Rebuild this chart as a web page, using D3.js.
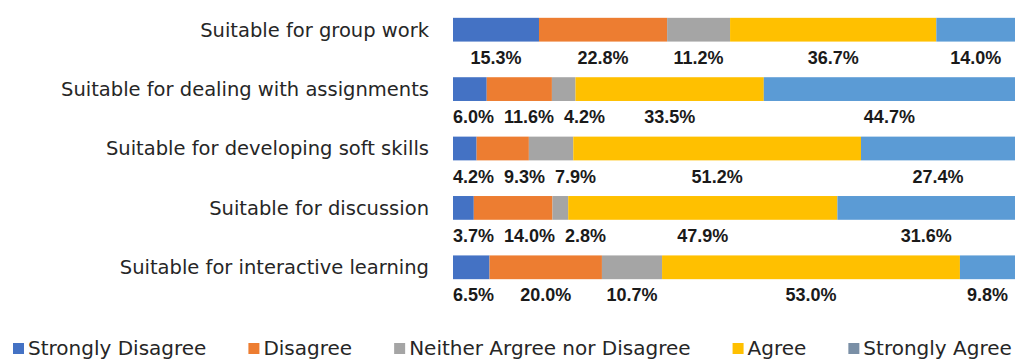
<html>
<head>
  <meta charset="utf-8" />
<style>
  html, body { margin: 0; padding: 0; background: #fff; }
  svg text { font-family: "DejaVu Sans", sans-serif; }
</style>
</head>
<body>
<div id="chart"></div>
<script src="https://cdnjs.cloudflare.com/ajax/libs/d3/7.8.5/d3.min.js"></script>
<script>

// categories top to bottom
var categories = [
  "Suitable for group work",
  "Suitable for dealing with assignments",
  "Suitable for developing soft skills",
  "Suitable for discussion",
  "Suitable for interactive learning"
];

var seriesNames = ["Strongly Disagree", "Disagree", "Neither Argree nor Disagree", "Agree", "Strongly Agree"];

// percentages, one array per series, same order as categories
var stronglyDisagree = [15.3, 6.0, 4.2, 3.7, 6.5];
var disagree         = [22.8, 11.6, 9.3, 14.0, 20.0];
var neither          = [11.2, 4.2, 7.9, 2.8, 10.7];
var agree            = [36.7, 33.5, 51.2, 47.9, 53.0];
var stronglyAgree    = [14.0, 44.7, 27.4, 31.6, 9.8];

var barColors    = ["#4472C4", "#ED7D31", "#A5A5A5", "#FFC000", "#5B9BD5"];
var legendColors = ["#4472C4", "#ED7D31", "#A5A5A5", "#FFC000", "#7A8FA6"];

var width = 1018, height = 361;
var svg = d3.select("#chart").append("svg")
    .attr("width", width).attr("height", height);

var seriesValues = [stronglyDisagree, disagree, neither, agree, stronglyAgree];
var table = categories.map(function(c, i) {
  var row = { cat: c };
  seriesNames.forEach(function(s, j) { row[s] = seriesValues[j][i]; });
  return row;
});

var stack = d3.stack().keys(seriesNames)(table);

var x = d3.scaleLinear().domain([0, 100]).range([453, 1015]);
var y = d3.scaleBand().domain(categories).range([0, 297]).paddingInner(0.6).paddingOuter(0.3);

// y axis labels
svg.append("g").selectAll("text")
  .data(categories).enter().append("text")
    .attr("x", 429)
    .attr("y", function(d) { return y(d) + y.bandwidth() / 2; })
    .attr("dy", "0.35em")
    .attr("text-anchor", "end")
    .attr("font-size", 19.5)
    .attr("fill", "#262626")
    .text(function(d) { return d; });

// bars
svg.append("g").selectAll("g")
  .data(stack).enter().append("g")
    .attr("fill", function(d, i) { return barColors[i]; })
  .selectAll("rect")
  .data(function(d) { return d; }).enter().append("rect")
    .attr("x", function(d) { return x(d[0]); })
    .attr("width", function(d) { return x(d[1]) - x(d[0]); })
    .attr("y", function(d) { return y(d.data.cat); })
    .attr("height", y.bandwidth());

// value labels below each bar, centred on segment, kept inside bar and apart
var labelG = svg.append("g");
categories.forEach(function(c, i) {
  var items = stack.map(function(s) {
    var d = s[i];
    var t = labelG.append("text")
      .style("font-family", "'Liberation Sans Narrow', 'Liberation Sans', sans-serif")
      .attr("font-size", 18)
      .attr("font-weight", "bold")
      .attr("fill", "#1a1a1a")
      .attr("y", y(c) + y.bandwidth() + 16)
      .attr("dy", "0.35em")
      .text(d3.format(".1f")(d[1] - d[0]) + "%");
    var w = t.node().getComputedTextLength();
    return { t: t, w: w, cx: (x(d[0]) + x(d[1])) / 2 };
  });
  var prevEnd = x(0) - 10;
  items.forEach(function(it) {
    var left = it.cx - it.w / 2;
    left = Math.max(left, x(0) - 5, prevEnd + 10);
    left = Math.min(left, x(100) - it.w);
    it.left = left;
    prevEnd = left + it.w;
  });
  items.forEach(function(it) { it.t.attr("x", it.left); });
});

// legend
var legend = svg.append("g");
var lx = 13, ly = 348;
seriesNames.forEach(function(s, i) {
  legend.append("rect")
    .attr("x", lx).attr("y", ly - 5)
    .attr("width", 11).attr("height", 11)
    .attr("fill", legendColors[i]);
  var t = legend.append("text")
    .attr("x", lx + 15).attr("y", ly).attr("dy", "0.35em")
    .attr("font-size", 20).attr("fill", "#262626")
    .text(s);
  lx += 15 + t.node().getComputedTextLength() + 42;
});

</script>
</body>
</html>
